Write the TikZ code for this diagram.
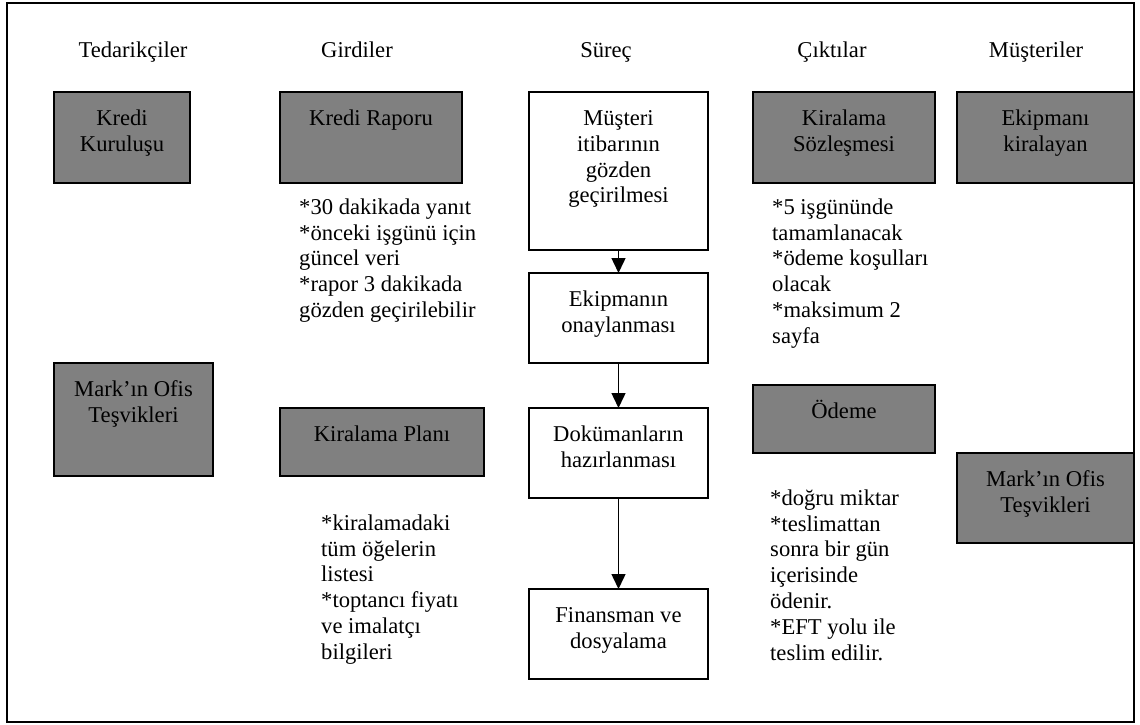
\documentclass[tikz,border=0pt]{standalone}
\usepackage{fontspec}
\setmainfont{Liberation Serif}
\usetikzlibrary{arrows.meta}
\definecolor{boxgray}{HTML}{808080}
% fixed-size box content: text hangs from the top edge
\newcommand{\boxtext}[3]{\parbox[c][#2][t]{#1}{\centering\rule{0pt}{33.5pt}#3}}
\begin{document}
\begin{tikzpicture}[x=1pt,y=-1pt,
  font=\fontsize{22.6pt}{25.8pt}\selectfont,
  darkbox/.style={draw, line width=1.8pt, fill=boxgray, inner sep=0pt, outer sep=0pt, anchor=north west},
  lightbox/.style={darkbox, fill=white},
  note/.style={anchor=north west, align=left, inner sep=0pt},
  heading/.style={anchor=base, inner sep=0pt},
  flow/.style={line width=1.5pt, -{Triangle[length=15pt,width=14pt]}}]
\useasboundingbox (0,0) rectangle (1140,725);
\draw[line width=1.8pt] (7,3) rectangle (1134,722);

% column headings
\node[heading] (h1) at (133,57) {Tedarikçiler};
\node[heading] (h2) at (357,57) {Girdiler};
\node[heading] (h3) at (606,57) {Süreç};
\node[heading] (h4) at (832,57) {Çıktılar};
\node[heading] (h5) at (1036,57) {Müşteriler};

% suppliers
\node[darkbox] (kk) at (54,92) {\boxtext{136pt}{91pt}{Kredi\\Kuruluşu}};
\node[darkbox] (mo1) at (54,363) {\boxtext{159pt}{113pt}{Mark’ın Ofis\\Teşvikleri}};

% inputs
\node[darkbox] (kr) at (280,92) {\boxtext{182pt}{91pt}{Kredi Raporu}};
\node[darkbox] (kp) at (280,408) {\boxtext{204pt}{68pt}{Kiralama Planı}};
\node[note] (n1) at (299,196) {\strut*30 dakikada yanıt\\*önceki işgünü için\\güncel veri\\*rapor 3 dakikada\\gözden geçirilebilir};
\node[note] (n3) at (321,512) {\strut*kiralamadaki\\tüm öğelerin\\listesi\\*toptancı fiyatı\\ve imalatçı\\bilgileri};

% process
\node[lightbox] (p1) at (529,92) {\boxtext{179pt}{158pt}{Müşteri\\itibarının\\gözden\\geçirilmesi}};
\node[lightbox] (p2) at (529,273) {\boxtext{179pt}{90pt}{Ekipmanın\\onaylanması}};
\node[lightbox] (p3) at (529,408) {\boxtext{179pt}{90pt}{Dokümanların\\hazırlanması}};
\node[lightbox] (p4) at (529,589) {\boxtext{179pt}{90pt}{Finansman ve\\dosyalama}};
\draw[flow] (p1.south) -- (p2.north);
\draw[flow] (p2.south) -- (p3.north);
\draw[flow] (p3.south) -- (p4.north);

% outputs
\node[darkbox] (ks) at (753,92) {\boxtext{182pt}{91pt}{Kiralama\\Sözleşmesi}};
\node[darkbox] (od) at (753,385) {\boxtext{182pt}{68pt}{Ödeme}};
\node[note] (n2) at (772,196) {\strut*5 işgününde\\tamamlanacak\\*ödeme koşulları\\olacak\\*maksimum 2\\sayfa};
\node[note] (n4) at (770,487) {\strut*doğru miktar\\*teslimattan\\sonra bir gün\\içerisinde\\ödenir.\\*EFT yolu ile\\teslim edilir.};

% customers
\node[darkbox] (ek) at (957,92) {\boxtext{177pt}{91pt}{Ekipmanı\\kiralayan}};
\node[darkbox] (mo2) at (957,453) {\boxtext{177pt}{90pt}{Mark’ın Ofis\\Teşvikleri}};
\end{tikzpicture}
\end{document}
